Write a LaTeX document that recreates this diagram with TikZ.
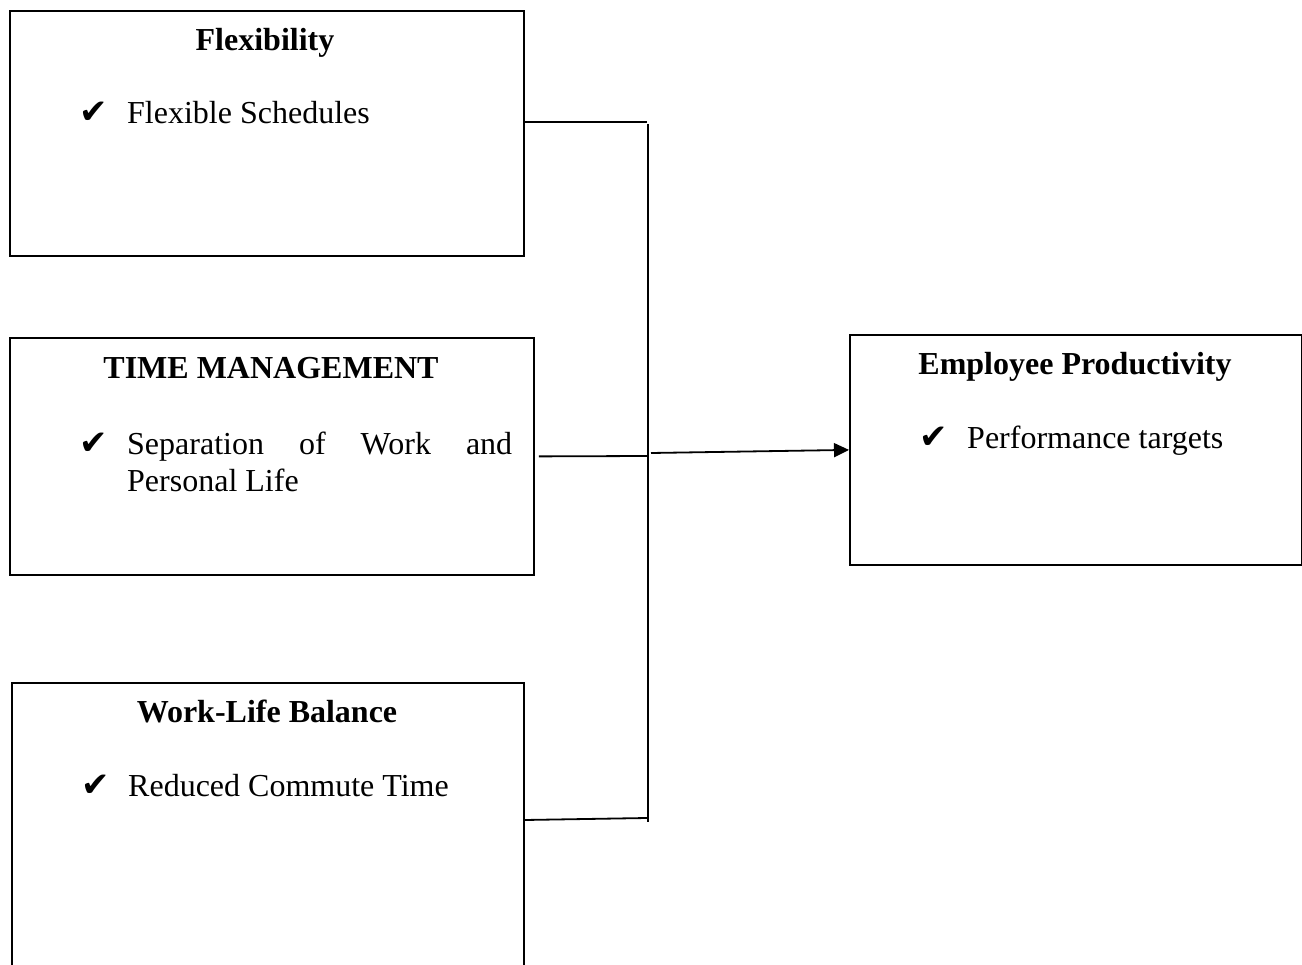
\documentclass[tikz,border=0pt]{standalone}
\usepackage{fontspec}
\setmainfont{Liberation Serif}
\newfontfamily\symfont{DejaVu Sans}
\usetikzlibrary{arrows.meta}
\begin{document}
\begin{tikzpicture}[x=1pt,y=-1pt,
  box/.style={draw, line width=1.8pt, inner sep=0pt, anchor=north west},
  head/.style={font=\fontsize{32}{38}\selectfont\bfseries, inner sep=0pt, anchor=base},
  item/.style={font=\fontsize{32}{38}\selectfont, inner sep=0pt, anchor=base west},
  tick/.style={font=\symfont\fontsize{34}{38}\selectfont, inner sep=0pt, anchor=base west},
  link/.style={line width=1.8pt}]
\useasboundingbox (0,0) rectangle (1302,965);
\clip (0,0) rectangle (1302,965);

% frames
\node[box, minimum width=514pt, minimum height=245pt] (b1) at (9,10) {};
\node[box, minimum width=524pt, minimum height=237pt] (b2) at (9,337) {};
\node[box, minimum width=512pt, minimum height=330pt] (b3) at (11,682) {};
\node[box, minimum width=452pt, minimum height=230pt] (b4) at (849,334) {};

% Flexibility
\node[head] (h1) at (265,51) {Flexibility};
\node[tick] (k1) at (79,124) {✔};
\node[item] (i1) at (127,124) {Flexible Schedules};

% Time management
\node[head] (h2) at (271,379) {TIME MANAGEMENT};
\node[tick] (k2) at (79,455) {✔};
\node[item] (i2a) at (127,455) {\makebox[385pt][s]{Separation of Work and}};
\node[item] (i2b) at (127,492) {Personal Life};

% Work-life balance
\node[head] (h3) at (267,722) {Work-Life Balance};
\node[tick] (k3) at (81,796) {✔};
\node[item] (i3) at (128,796) {Reduced Commute Time};

% Employee productivity
\node[head] (h4) at (1075,375) {Employee Productivity};
\node[tick] (k4) at (919,449) {✔};
\node[item] (i4) at (967,449) {Performance targets};

% connectors
\coordinate (vtop) at (648,124);
\coordinate (vbot) at (648,822);
\coordinate (j1) at (647,122);
\coordinate (j2) at (647,456);
\coordinate (j3) at (647,818);
\coordinate (a0) at (651,453);
\draw[link] (vtop) -- (vbot);
\draw[link] (b1.north east |- j1) -- (j1);
\draw[link] ([xshift=4pt]b2.east) -- (j2);
\draw[link] (b3.north east |- 0,820) -- (j3);
\draw[link, -{Triangle[length=15pt,width=14pt]}] (a0) -- (b4.west);
\end{tikzpicture}
\end{document}
